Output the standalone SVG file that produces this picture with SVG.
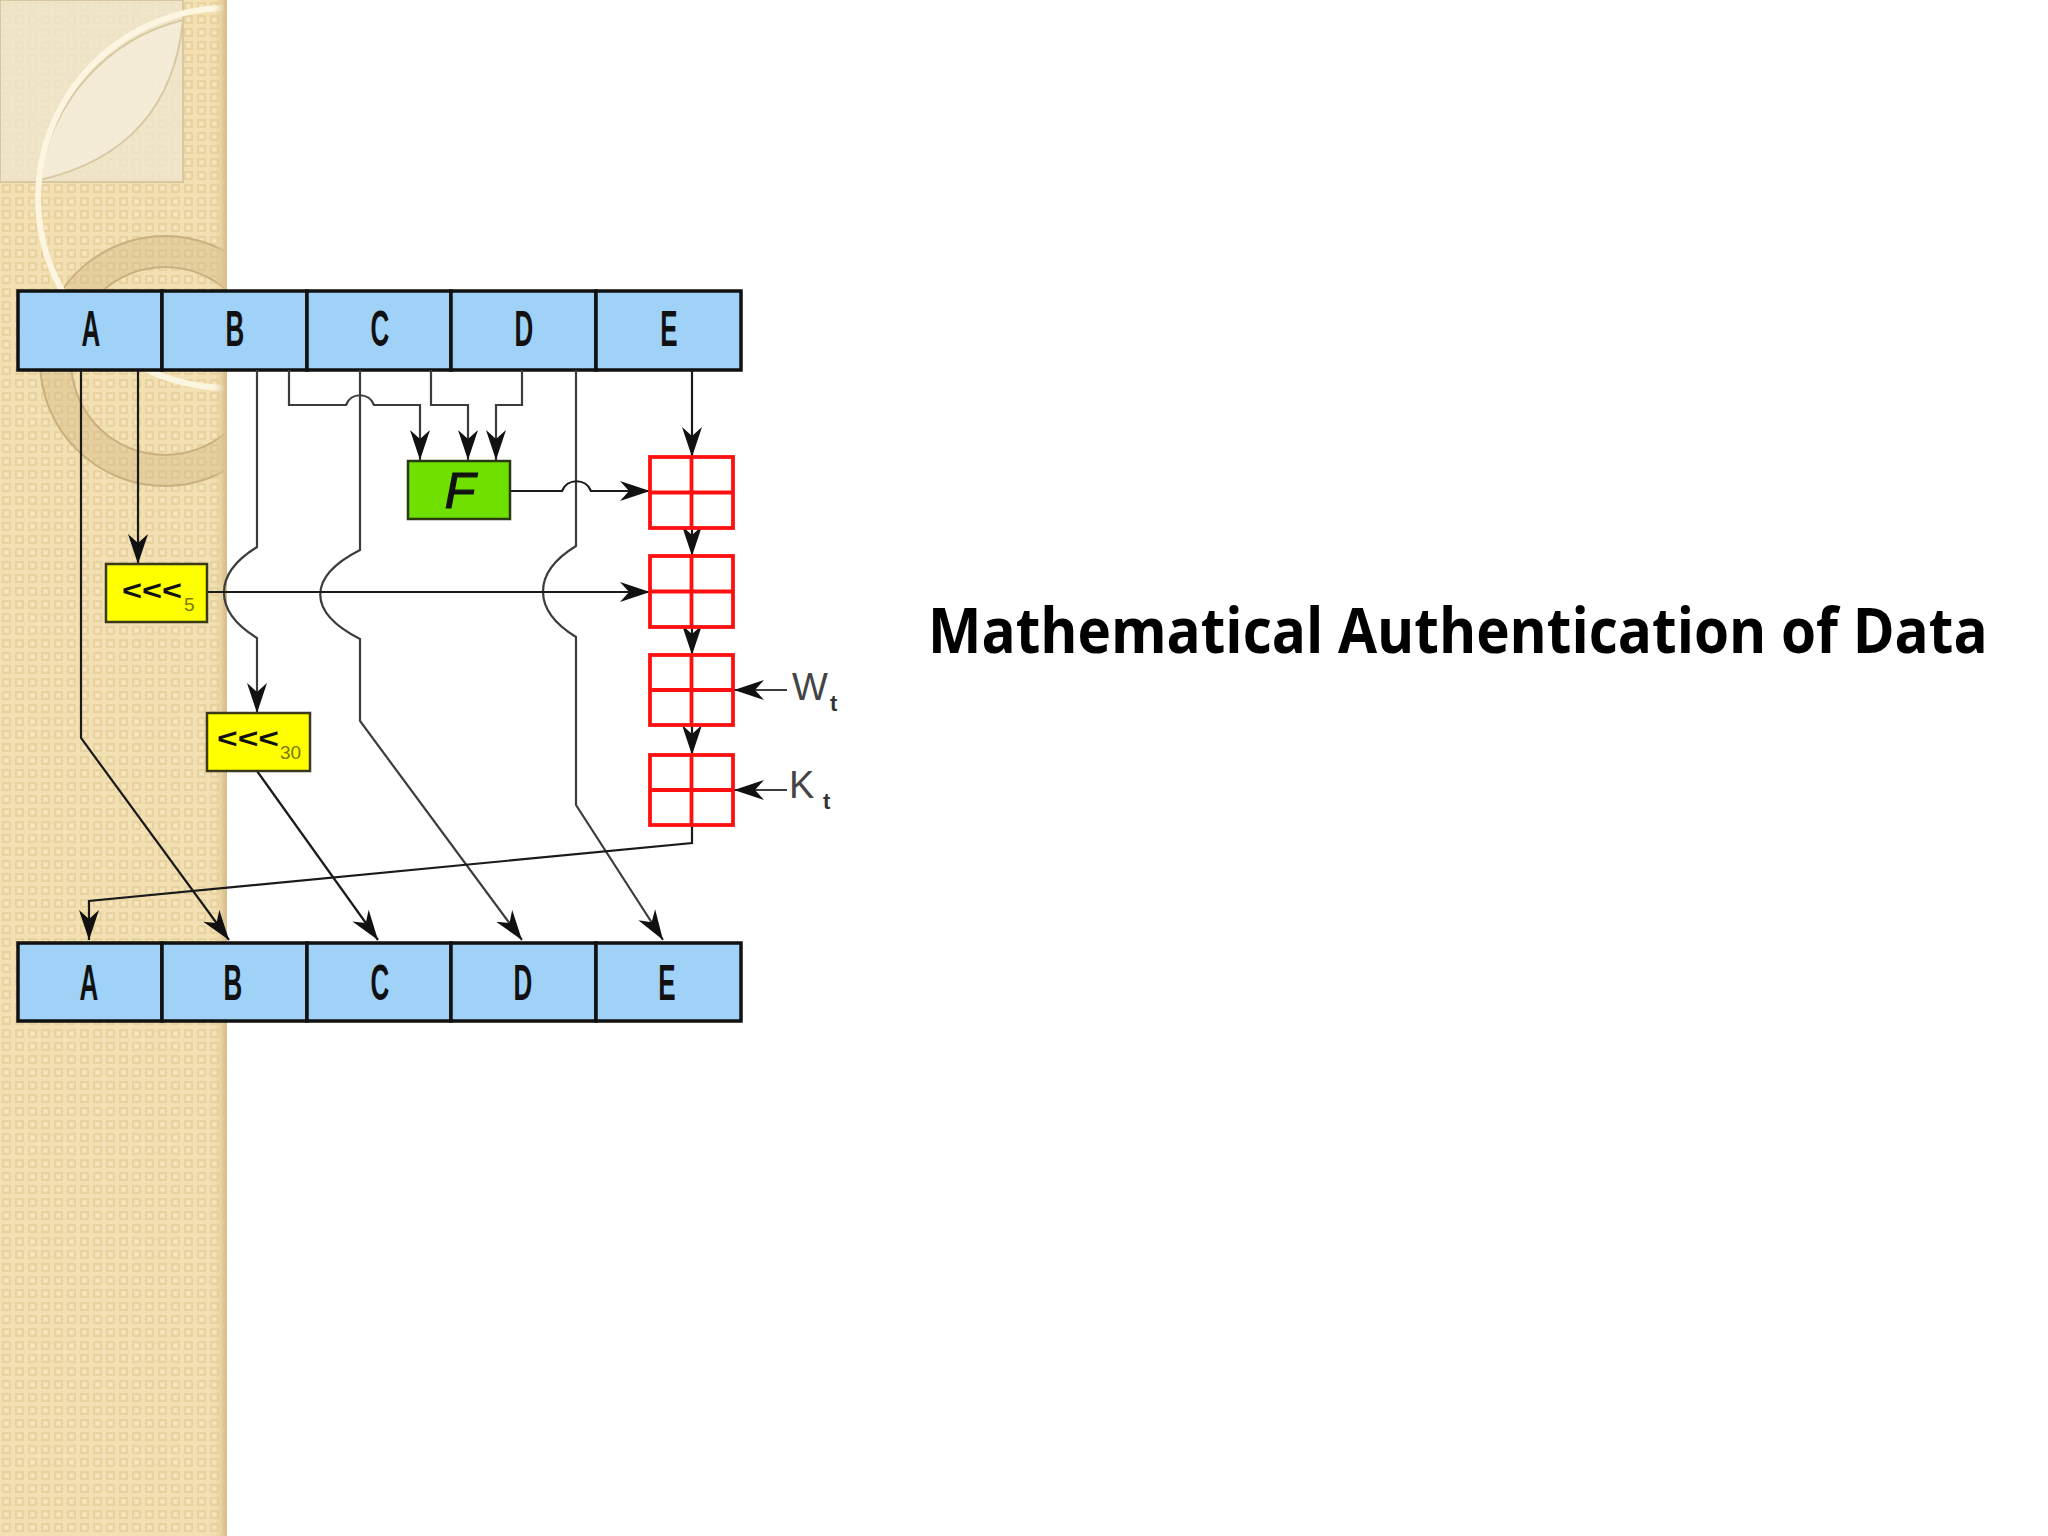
<svg xmlns="http://www.w3.org/2000/svg" width="2048" height="1536" viewBox="0 0 2048 1536">
<defs>
<pattern id="tex" width="13" height="13" patternUnits="userSpaceOnUse">
<rect width="13" height="13" fill="#f3e0b2"/>
<rect x="3" y="3" width="7" height="7" fill="none" stroke="#e6cf9c" stroke-width="1.6"/>
<rect x="5.5" y="5.5" width="2" height="2" fill="#f8ecd0"/>
</pattern>
<linearGradient id="edge" x1="0" y1="0" x2="1" y2="0">
<stop offset="0" stop-color="#e6d09c" stop-opacity="0"/>
<stop offset="1" stop-color="#d4bc88"/>
</linearGradient>
<clipPath id="stripClip"><rect x="0" y="0" width="224" height="1536"/></clipPath>
<marker id="ah" markerUnits="userSpaceOnUse" markerWidth="32" markerHeight="22" refX="30" refY="11" orient="auto" viewBox="0 0 32 22">
<path d="M30,11 L0,1 L9,11 L0,21 Z" fill="#111"/>
</marker>
<style>
.reg{fill:#a0d2f8;stroke:#111;stroke-width:3.5}
.lbl{font-family:"Liberation Sans",Arial,sans-serif;font-weight:bold;font-size:50px;fill:#111}
.ln{fill:none;stroke:#1a1a1a;stroke-width:2.2}
.lg{fill:none;stroke:#3c3c3c;stroke-width:2.2}
.add{fill:none;stroke:#ff1010;stroke-width:3.8}
.rot{fill:#ffff00;stroke:#3a3a1a;stroke-width:2.5}
.rt{font-family:"Liberation Sans",Arial,sans-serif;font-weight:bold;font-size:27px;fill:#111}
.sub{font-family:"Liberation Sans",Arial,sans-serif;font-size:19px;fill:#7a7a00}
.wk{font-family:"Liberation Sans",Arial,sans-serif;font-size:38px;fill:#444}
.wks{font-family:"Liberation Sans",Arial,sans-serif;font-weight:bold;font-size:22px;fill:#333}
</style>
</defs>

<rect x="0" y="0" width="2048" height="1536" fill="#ffffff"/>

<g id="strip">
<rect x="0" y="0" width="227" height="1536" fill="url(#tex)"/>
<g clip-path="url(#stripClip)">
<rect x="0" y="0" width="183" height="182" fill="#efe5cb" fill-opacity="0.85" stroke="#d8c7a0" stroke-width="2"/>
<path d="M183,20 Q170,150 40,180 A190,190 0 0 1 183,20 Z" fill="#f4ecd8" fill-opacity="0.9" stroke="#d8c9a2" stroke-width="2"/>
<path fill-rule="evenodd" d="M40,361 A125,125 0 1 0 290,361 A125,125 0 1 0 40,361 Z M71,361 A94,94 0 1 0 259,361 A94,94 0 1 0 71,361 Z" fill="#d2b680" fill-opacity="0.4" stroke="#c9b07e" stroke-width="2"/>
<circle cx="228" cy="198" r="190" fill="none" stroke="#fcf5e0" stroke-width="6"/>
</g>
<rect x="214" y="0" width="13" height="1536" fill="url(#edge)"/>
</g>

<g id="top-row">
<rect class="reg" x="18" y="291" width="144" height="79"/>
<rect class="reg" x="162" y="291" width="145" height="79"/>
<rect class="reg" x="307" y="291" width="144" height="79"/>
<rect class="reg" x="451" y="291" width="145" height="79"/>
<rect class="reg" x="596" y="291" width="145" height="79"/>
<text class="lbl" text-anchor="middle" transform="translate(91,346) scale(0.52,1)">A</text>
<text class="lbl" text-anchor="middle" transform="translate(235,346) scale(0.52,1)">B</text>
<text class="lbl" text-anchor="middle" transform="translate(380,346) scale(0.52,1)">C</text>
<text class="lbl" text-anchor="middle" transform="translate(524,346) scale(0.52,1)">D</text>
<text class="lbl" text-anchor="middle" transform="translate(669,346) scale(0.52,1)">E</text>
</g>

<g id="bottom-row">
<rect class="reg" x="18" y="943" width="144" height="78"/>
<rect class="reg" x="162" y="943" width="145" height="78"/>
<rect class="reg" x="307" y="943" width="144" height="78"/>
<rect class="reg" x="451" y="943" width="145" height="78"/>
<rect class="reg" x="596" y="943" width="145" height="78"/>
<text class="lbl" text-anchor="middle" transform="translate(89,1000) scale(0.52,1)">A</text>
<text class="lbl" text-anchor="middle" transform="translate(233,1000) scale(0.52,1)">B</text>
<text class="lbl" text-anchor="middle" transform="translate(380,1000) scale(0.52,1)">C</text>
<text class="lbl" text-anchor="middle" transform="translate(523,1000) scale(0.52,1)">D</text>
<text class="lbl" text-anchor="middle" transform="translate(667,1000) scale(0.52,1)">E</text>
</g>

<g id="connectors">
<path class="ln" d="M81,370 V738 L229,940" marker-end="url(#ah)"/>
<path class="ln" d="M138,370 V564" marker-end="url(#ah)"/>
<path class="lg" d="M257,370 V547 C213,574 213,611 257,638 V713" marker-end="url(#ah)"/>
<path class="lg" d="M289,370 V405 H346 C351,392 369,392 374,405 H420 V460" marker-end="url(#ah)"/>
<path class="lg" d="M360,370 V550 C307,577 307,612 360,639 V721 L522,940" marker-end="url(#ah)"/>
<path class="lg" d="M431,370 V405 H468 V460" marker-end="url(#ah)"/>
<path class="lg" d="M522,370 V405 H496 V460" marker-end="url(#ah)"/>
<path class="lg" d="M576,370 V546 C532,573 532,610 576,637 V805 L663,940" marker-end="url(#ah)"/>
<path class="ln" d="M692,370 V457" marker-end="url(#ah)"/>
<path class="ln" d="M510,491 H562 C567,478 586,478 591,491 H650" marker-end="url(#ah)"/>
<path class="ln" d="M207,592 H650" marker-end="url(#ah)"/>
<path class="ln" d="M692,528 V556" marker-end="url(#ah)"/>
<path class="ln" d="M692,627 V655" marker-end="url(#ah)"/>
<path class="ln" d="M692,725 V755" marker-end="url(#ah)"/>
<path class="lg" d="M787,690 H734" marker-end="url(#ah)"/>
<path class="lg" d="M787,790 H734" marker-end="url(#ah)"/>
<path class="ln" d="M257,771 L378,940" marker-end="url(#ah)"/>
<path class="ln" d="M692,825 V843 L89,901 V940" marker-end="url(#ah)"/>
</g>

<g id="F">
<rect x="408" y="461" width="102" height="58" fill="#70e000" stroke="#2a3a10" stroke-width="2.5"/>
<text x="460" y="508" text-anchor="middle" font-family="Liberation Sans, Arial, sans-serif" font-style="italic" font-size="50" fill="#111" stroke="#111" stroke-width="1.2">F</text>
</g>

<g id="rot5">
<rect class="rot" x="106" y="564" width="101" height="58"/>
<text class="rt" x="122" y="600" textLength="60" lengthAdjust="spacingAndGlyphs">&lt;&lt;&lt;</text>
<text class="sub" x="184" y="611">5</text>
</g>

<g id="rot30">
<rect class="rot" x="207" y="713" width="103" height="58"/>
<text class="rt" x="217" y="748" textLength="62" lengthAdjust="spacingAndGlyphs">&lt;&lt;&lt;</text>
<text class="sub" x="280" y="759">30</text>
</g>

<g id="adder1">
<rect class="add" x="650" y="457" width="83" height="71"/>
<path class="add" d="M691.5,457 V528 M650,492.5 H733"/>
</g>
<g id="adder2">
<rect class="add" x="650" y="556" width="83" height="71"/>
<path class="add" d="M691.5,556 V627 M650,591.5 H733"/>
</g>
<g id="adder3">
<rect class="add" x="650" y="655" width="83" height="70"/>
<path class="add" d="M691.5,655 V725 M650,690 H733"/>
</g>
<g id="adder4">
<rect class="add" x="650" y="755" width="83" height="70"/>
<path class="add" d="M691.5,755 V825 M650,790 H733"/>
</g>

<g id="Wt">
<text class="wk" x="792" y="700">W</text>
<text class="wks" x="830" y="711">t</text>
</g>
<g id="Kt">
<text class="wk" x="789" y="798">K</text>
<text class="wks" x="823" y="809">t</text>
</g>

<g id="title">
<text transform="translate(928,653) scale(0.914,1)" font-family="Open Sans, Liberation Sans, sans-serif" font-weight="bold" font-size="62" fill="#000">Mathematical Authentication of Data</text>
</g>
</svg>
